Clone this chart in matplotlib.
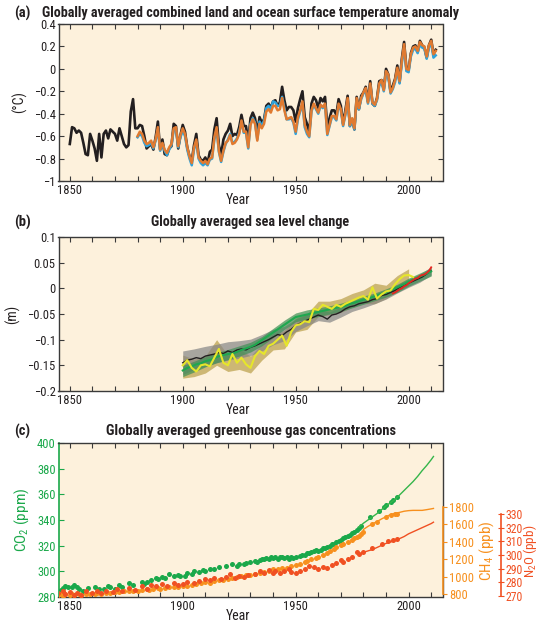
import numpy as np
import matplotlib
matplotlib.use("Agg")
import matplotlib.pyplot as plt

plt.rcParams['font.family'] = ['Roboto Condensed', 'Roboto', 'DejaVu Sans']
plt.rcParams['mathtext.fontset'] = 'custom'
plt.rcParams['mathtext.rm'] = 'Roboto Condensed'

# ---------------- data ----------------
# (a) surface temperature anomaly (deg C), annual
temp_years_black = np.arange(1850, 2013)
temp_black = [
    -0.67, -0.52, -0.53, -0.57, -0.55, -0.57, -0.66, -0.76, -0.77, -0.58,
    -0.64, -0.71, -0.82, -0.58, -0.79, -0.58, -0.55, -0.62, -0.54, -0.56,
    -0.58, -0.64, -0.53, -0.60, -0.67, -0.70, -0.68, -0.38, -0.27, -0.53,
    -0.53, -0.50, -0.51, -0.60, -0.71, -0.69, -0.67, -0.72, -0.61, -0.47,
    -0.72, -0.63, -0.76, -0.77, -0.71, -0.69, -0.49, -0.51, -0.71, -0.59,
    -0.50, -0.56, -0.70, -0.78, -0.82, -0.68, -0.58, -0.77, -0.81, -0.82,
    -0.79, -0.84, -0.74, -0.72, -0.54, -0.44, -0.68, -0.77, -0.63, -0.58,
    -0.55, -0.49, -0.60, -0.58, -0.59, -0.52, -0.41, -0.51, -0.51, -0.65,
    -0.44, -0.39, -0.44, -0.57, -0.43, -0.48, -0.45, -0.33, -0.31, -0.35,
    -0.29, -0.28, -0.33, -0.30, -0.16, -0.28, -0.37, -0.34, -0.34, -0.37,
    -0.47, -0.35, -0.27, -0.20, -0.43, -0.49, -0.57, -0.31, -0.25, -0.28,
    -0.35, -0.26, -0.29, -0.25, -0.52, -0.44, -0.37, -0.37, -0.41, -0.27,
    -0.33, -0.49, -0.37, -0.24, -0.51, -0.45, -0.54, -0.25, -0.36, -0.24,
    -0.21, -0.16, -0.29, -0.11, -0.31, -0.33, -0.26, -0.11, -0.10, -0.18,
    0.00, -0.05, -0.20, -0.15, -0.09, 0.03, -0.12, 0.09, 0.24, 0.01,
    -0.01, 0.14, 0.20, 0.21, 0.15, 0.25, 0.21, 0.19, 0.10, 0.21,
    0.26, 0.13, 0.17]
temp_years_other = np.arange(1880, 2013)
temp_orange = [
    -0.60, -0.56, -0.58, -0.64, -0.67, -0.66, -0.64, -0.70, -0.63, -0.52,
    -0.72, -0.66, -0.72, -0.75, -0.70, -0.67, -0.53, -0.52, -0.69, -0.59,
    -0.53, -0.58, -0.70, -0.78, -0.84, -0.70, -0.63, -0.79, -0.82, -0.84,
    -0.82, -0.85, -0.80, -0.79, -0.61, -0.52, -0.73, -0.82, -0.73, -0.66,
    -0.64, -0.59, -0.67, -0.66, -0.63, -0.58, -0.46, -0.56, -0.56, -0.70,
    -0.50, -0.45, -0.49, -0.64, -0.49, -0.53, -0.49, -0.38, -0.36, -0.39,
    -0.33, -0.33, -0.37, -0.36, -0.26, -0.37, -0.45, -0.44, -0.43, -0.47,
    -0.56, -0.43, -0.37, -0.29, -0.50, -0.56, -0.60, -0.37, -0.31, -0.35,
    -0.39, -0.32, -0.34, -0.31, -0.58, -0.50, -0.42, -0.42, -0.45, -0.31,
    -0.36, -0.50, -0.40, -0.26, -0.50, -0.44, -0.53, -0.26, -0.35, -0.26,
    -0.21, -0.17, -0.30, -0.13, -0.30, -0.32, -0.27, -0.13, -0.10, -0.19,
    -0.02, -0.05, -0.21, -0.17, -0.10, 0.01, -0.11, 0.07, 0.22, 0.00,
    -0.01, 0.13, 0.19, 0.20, 0.16, 0.24, 0.21, 0.20, 0.11, 0.21,
    0.25, 0.13, 0.16]
temp_blue = [
    -0.61, -0.58, -0.60, -0.66, -0.69, -0.68, -0.66, -0.71, -0.64, -0.54,
    -0.73, -0.67, -0.73, -0.77, -0.72, -0.68, -0.55, -0.54, -0.70, -0.61,
    -0.55, -0.60, -0.72, -0.80, -0.86, -0.72, -0.65, -0.80, -0.84, -0.86,
    -0.84, -0.86, -0.81, -0.80, -0.63, -0.54, -0.74, -0.83, -0.74, -0.67,
    -0.63, -0.58, -0.66, -0.65, -0.62, -0.57, -0.47, -0.57, -0.57, -0.71,
    -0.49, -0.44, -0.48, -0.63, -0.47, -0.51, -0.46, -0.35, -0.33, -0.36,
    -0.29, -0.30, -0.33, -0.33, -0.25, -0.35, -0.45, -0.45, -0.44, -0.48,
    -0.58, -0.45, -0.38, -0.31, -0.52, -0.58, -0.61, -0.38, -0.32, -0.36,
    -0.40, -0.33, -0.35, -0.32, -0.59, -0.51, -0.43, -0.43, -0.46, -0.32,
    -0.37, -0.51, -0.41, -0.28, -0.51, -0.46, -0.54, -0.28, -0.36, -0.27,
    -0.22, -0.19, -0.31, -0.15, -0.31, -0.33, -0.28, -0.15, -0.12, -0.20,
    -0.04, -0.07, -0.22, -0.18, -0.12, -0.01, -0.13, 0.05, 0.19, -0.02,
    -0.03, 0.11, 0.17, 0.18, 0.14, 0.22, 0.19, 0.18, 0.09, 0.19,
    0.23, 0.10, 0.12]

# (b) sea level change (m)
sl_years = np.arange(1900, 2011, 2)
sl_black = [
    -0.145, -0.140, -0.138, -0.135, -0.137, -0.132, -0.130, -0.128, -0.125, -0.127,
    -0.122, -0.125, -0.120, -0.118, -0.120, -0.115, -0.112, -0.108, -0.104, -0.100,
    -0.095, -0.090, -0.092, -0.085, -0.080, -0.072, -0.068, -0.064, -0.060, -0.056,
    -0.052, -0.055, -0.060, -0.052, -0.050, -0.046, -0.040, -0.036, -0.034, -0.030,
    -0.028, -0.026, -0.022, -0.020, -0.014, -0.012, -0.008, -0.004, 0.002, 0.006,
    0.010, 0.014, 0.018, 0.022, 0.028, 0.034]
sl_green = [
    -0.160, -0.155, -0.152, -0.148, -0.146, -0.142, -0.140, -0.136, -0.132, -0.130,
    -0.128, -0.127, -0.124, -0.120, -0.117, -0.114, -0.110, -0.104, -0.098, -0.092,
    -0.086, -0.080, -0.074, -0.068, -0.062, -0.056, -0.054, -0.052, -0.050, -0.048,
    -0.046, -0.044, -0.042, -0.040, -0.038, -0.036, -0.034, -0.030, -0.028, -0.025,
    -0.022, -0.020, -0.017, -0.014, -0.011, -0.008, -0.004, 0.000, 0.004, 0.008,
    0.013, 0.017, 0.021, 0.025, 0.029, 0.033]
sl_years_yellow = np.arange(1900, 2003, 2)
sl_yellow = [
    -0.150, -0.140, -0.155, -0.162, -0.150, -0.148, -0.152, -0.135, -0.118, -0.145,
    -0.150, -0.128, -0.145, -0.135, -0.148, -0.155, -0.132, -0.122, -0.128, -0.112,
    -0.108, -0.100, -0.092, -0.112, -0.085, -0.072, -0.070, -0.064, -0.066, -0.040,
    -0.042, -0.032, -0.036, -0.040, -0.032, -0.036, -0.030, -0.026, -0.022, -0.018,
    -0.015, -0.022, 0.002, -0.020, -0.012, -0.006, -0.004, 0.008, 0.018, 0.025,
    0.026, 0.022]
sl_years_red = np.arange(1993, 2011)
sl_red = [-0.010, -0.008, -0.005, -0.002, 0.000, 0.004, 0.006, 0.010, 0.013, 0.016,
          0.019, 0.020, 0.024, 0.026, 0.027, 0.030, 0.034, 0.041]

band_years = np.arange(1900, 2011, 5)
gray_lo = [-0.168, -0.158, -0.152, -0.145, -0.140, -0.136, -0.131, -0.122, -0.110, -0.102,
           -0.084, -0.073, -0.063, -0.066, -0.056, -0.045, -0.038, -0.030, -0.021, -0.009,
           0.002, 0.012, 0.026]
gray_hi = [-0.122, -0.118, -0.113, -0.109, -0.104, -0.102, -0.099, -0.090, -0.080, -0.074,
           -0.060, -0.051, -0.041, -0.046, -0.036, -0.025, -0.018, -0.012, -0.003, 0.007,
           0.018, 0.028, 0.042]
green_lo = [-0.172, -0.163, -0.153, -0.145, -0.139, -0.132, -0.124, -0.112, -0.096, -0.080,
            -0.065, -0.060, -0.055, -0.050, -0.045, -0.038, -0.031, -0.024, -0.017, -0.008,
            0.004, 0.014, 0.024]
green_hi = [-0.150, -0.142, -0.133, -0.125, -0.119, -0.112, -0.105, -0.094, -0.078, -0.062,
            -0.048, -0.042, -0.038, -0.034, -0.029, -0.022, -0.015, -0.009, -0.001, 0.008,
            0.020, 0.030, 0.040]
khaki_years = np.arange(1900, 2001, 5)
khaki_lo = [-0.175, -0.172, -0.165, -0.150, -0.162, -0.158, -0.165, -0.140, -0.120, -0.118,
            -0.085, -0.080, -0.055, -0.052, -0.047, -0.037, -0.030, -0.030, -0.020, -0.005,
            0.006]
khaki_hi = [-0.130, -0.138, -0.132, -0.100, -0.130, -0.118, -0.132, -0.108, -0.092, -0.082,
            -0.058, -0.050, -0.025, -0.025, -0.020, -0.010, -0.003, 0.010, 0.006, 0.025,
            0.038]

# (c) greenhouse gases: ice core dots and direct measurement lines
co2_dot_years = [1845, 1846, 1847, 1848, 1849, 1851, 1852, 1853, 1854, 1856, 1858, 1861, 1863,
                 1865, 1867, 1868, 1870, 1872, 1873, 1876, 1878, 1882, 1883, 1884, 1886, 1888,
                 1889, 1891, 1892, 1894, 1896, 1898, 1899, 1901, 1902, 1904, 1905, 1907, 1909,
                 1910, 1912, 1914, 1916, 1919, 1922, 1924, 1925, 1927, 1928, 1930, 1932, 1933,
                 1934, 1935, 1936, 1937, 1938, 1939, 1940, 1941, 1942, 1943, 1944, 1945, 1946,
                 1947, 1948, 1949, 1950, 1952, 1953, 1954, 1955, 1956, 1957, 1958, 1959, 1960,
                 1961, 1962, 1963, 1964, 1965, 1966, 1967, 1968, 1969, 1970, 1971, 1972, 1973,
                 1974, 1975, 1976, 1977, 1978, 1979, 1983, 1987, 1989, 1990, 1992, 1993, 1995]
co2_dots = [284.5, 285.5, 287.0, 288.5, 287.5, 288.0, 289.5, 287.5, 286.0, 285.0, 287.0, 287.5,
            286.5, 286.0, 288.5, 287.5, 286.5, 289.5, 288.0, 291.0, 289.5, 292.0, 290.0, 291.5,
            293.0, 295.0, 294.0, 295.5, 294.5, 298.0, 296.5, 297.0, 296.5, 296.0, 298.5, 298.0,
            300.0, 299.5, 301.0, 300.5, 301.5, 302.0, 303.5, 304.5, 305.5, 304.5, 306.0, 305.5,
            306.5, 307.0, 308.0, 307.5, 308.5, 309.5, 310.0, 310.5, 309.5, 311.0, 310.5, 311.5,
            310.0, 311.0, 311.5, 310.5, 311.0, 310.0, 311.0, 310.5, 311.0, 312.0, 313.0, 312.5,
            314.0, 314.5, 315.0, 315.5, 316.5, 316.0, 317.0, 318.0, 318.5, 319.0, 319.5, 321.0,
            321.5, 323.0, 324.0, 324.5, 326.0, 326.5, 327.5, 328.5, 330.0, 331.0, 332.0, 333.5,
            335.0, 342.0, 347.0, 350.0, 351.5, 354.0, 355.5, 358.0]
co2_line_years = [1978, 1980, 1982, 1984, 1986, 1988, 1990, 1992, 1994, 1996, 1998, 2000,
                  2002, 2004, 2006, 2008, 2010, 2011]
co2_line = [334.5, 337.5, 340.0, 342.5, 345.0, 348.0, 351.0, 353.5, 356.0, 359.5, 363.0,
            366.5, 370.0, 374.0, 378.5, 382.5, 387.0, 389.5]

ch4_dot_years = [1845, 1846, 1847, 1848, 1850, 1851, 1852, 1854, 1855, 1857, 1859, 1861, 1862,
                 1864, 1866, 1868, 1870, 1872, 1874, 1876, 1878, 1880, 1882, 1884, 1885, 1887,
                 1889, 1890, 1892, 1894, 1896, 1898, 1900, 1902, 1904, 1906, 1908, 1910, 1912,
                 1914, 1916, 1918, 1920, 1922, 1924, 1926, 1928, 1930, 1932, 1934, 1936, 1938,
                 1940, 1942, 1944, 1946, 1948, 1950, 1952, 1954, 1955, 1957, 1959, 1960, 1962,
                 1964, 1965, 1967, 1968, 1970, 1971, 1973, 1975, 1976, 1977, 1978, 1979, 1980,
                 1984, 1986, 1990, 1992, 1994, 1995]
ch4_dots = [792, 800, 785, 798, 790, 805, 795, 800, 788, 803, 808, 800, 812, 808, 818, 815, 825,
            822, 832, 835, 842, 838, 850, 858, 848, 862, 870, 865, 872, 880, 878, 885, 892, 890,
            905, 912, 925, 935, 930, 950, 958, 962, 975, 985, 995, 1005, 1015, 1025, 1030, 1045,
            1060, 1070, 1085, 1090, 1100, 1105, 1120, 1135, 1150, 1170, 1180, 1200, 1215, 1230,
            1250, 1275, 1290, 1320, 1335, 1360, 1375, 1400, 1425, 1440, 1455, 1470, 1490, 1515,
            1600, 1625, 1680, 1700, 1712, 1718]
ch4_line_years = [1980, 1982, 1984, 1986, 1988, 1990, 1992, 1994, 1996, 1998, 2000, 2002, 2004,
                  2006, 2008, 2010, 2011]
ch4_line = [1540, 1575, 1605, 1630, 1660, 1685, 1710, 1725, 1735, 1748, 1755, 1758, 1758, 1758,
            1766, 1775, 1780]

n2o_dot_years = [1845, 1847, 1848, 1850, 1852, 1853, 1855, 1857, 1860, 1862, 1864, 1866, 1869,
                 1871, 1873, 1876, 1879, 1882, 1884, 1886, 1888, 1891, 1893, 1896, 1898, 1900,
                 1902, 1905, 1907, 1910, 1912, 1914, 1917, 1919, 1921, 1923, 1925, 1927, 1929,
                 1932, 1934, 1936, 1938, 1940, 1941, 1943, 1945, 1947, 1948, 1950, 1952, 1954,
                 1956, 1958, 1960, 1962, 1964, 1966, 1968, 1970, 1971, 1973, 1975, 1977, 1978,
                 1980, 1984, 1988, 1991, 1993, 1995]
n2o_dots = [272, 273.5, 271.5, 273, 271, 272.5, 271, 274, 272.5, 273.5, 272, 274, 273, 275.5,
            274, 276, 274.5, 277, 275.5, 278, 277, 278.5, 277.5, 279.5, 278, 279, 280.5, 279.5,
            281, 282.5, 281.5, 283, 282.5, 284, 286, 283.5, 285, 284, 285.5, 286, 288, 286.5,
            289, 287, 288.5, 286.5, 288, 290, 287.5, 286.5, 288, 289.5, 292, 291, 290, 291.5,
            290.5, 293, 294.5, 296, 295, 297, 298.5, 302, 300.5, 302, 305, 308, 310, 311, 312]
n2o_line_years = [1978, 1980, 1982, 1984, 1986, 1988, 1990, 1992, 1994, 1996, 1998, 2000, 2002,
                  2004, 2006, 2008, 2010, 2011]
n2o_line = [300.5, 302, 303, 304, 305.5, 307, 308.5, 309.5, 310.5, 312, 313.5, 315.5, 317,
            318.5, 320, 321.5, 323, 324]

# ---------------- styling ----------------
BG = '#fdf1dc'
FRAME = '#3a3a3a'
C_BLACK = '#231f20'
C_BLUE = '#2ea3dc'
C_ORANGE = '#e07a30'
C_CO2 = '#1aa84a'
C_CO2_LINE = '#35b54a'
C_CH4 = '#f7901e'
C_N2O = '#f05022'

fig = plt.figure(figsize=(5.4, 6.25), dpi=100)
L, W = 58.5 / 540, 384 / 540
ax_a = fig.add_axes([L, 1 - 181 / 625, W, 157 / 625])
ax_b = fig.add_axes([L, 1 - 391 / 625, W, 154 / 625])
ax_c = fig.add_axes([L, 1 - 597 / 625, W, 154 / 625])

decades = np.arange(1850, 2011, 10)
dec_labels = [str(d) if d % 50 == 0 else '' for d in decades]


def style_axes(ax, yticks, ylabels, right_ticks=True):
    ax.set_facecolor(BG)
    ax.set_xlim(1845, 2015)
    ax.set_xticks(decades)
    ax.set_xticklabels(dec_labels)
    ax.set_yticks(yticks)
    ax.set_yticklabels(ylabels)
    ax.tick_params(direction='in', length=3.5, width=0.8, color=FRAME, labelsize=9,
                   labelcolor='#231f20', top=True, right=right_ticks, pad=2)
    ax.tick_params(axis='x', pad=2.5)
    for s in ax.spines.values():
        s.set_color(FRAME)
        s.set_linewidth(1.0)
    ax.set_xlabel('Year', fontsize=10, labelpad=0, color='#231f20')
    ax.xaxis.set_label_coords((238 - 58.5) / 384, -0.075)


# (a)
ax_a.plot(temp_years_black, temp_black, color=C_BLACK, lw=1.9)
ax_a.plot(temp_years_other, temp_blue, color=C_BLUE, lw=1.8)
ax_a.plot(temp_years_other, temp_orange, color=C_ORANGE, lw=1.8)
ax_a.set_ylim(-1, 0.4)
style_axes(ax_a, [-1, -0.8, -0.6, -0.4, -0.2, 0, 0.2, 0.4],
           ['\u22121', '\u22120.8', '\u22120.6', '\u22120.4', '\u22120.2', '0', '0.2', '0.4'])
ax_a.set_ylabel('(\u00b0C)', fontsize=10, labelpad=5, color='#231f20')

# (b)
ax_b.fill_between(khaki_years, khaki_lo, khaki_hi, color='#bea452', alpha=0.75, lw=0)
ax_b.fill_between(band_years, gray_lo, gray_hi, color='#858585', alpha=0.7, lw=0)
ax_b.fill_between(band_years, green_lo, green_hi, color='#3f8f55', alpha=0.7, lw=0)
ax_b.plot(sl_years, sl_black, color=C_BLACK, lw=1.0)
ax_b.plot(sl_years, sl_green, color='#1fa84f', lw=1.5)
ax_b.plot(sl_years_yellow, sl_yellow, color='#e6e62a', lw=1.5)
ax_b.plot(sl_years_red, sl_red, color='#e8231f', lw=1.3)
ax_b.set_ylim(-0.2, 0.1)
style_axes(ax_b, [-0.2, -0.15, -0.1, -0.05, 0, 0.05, 0.1],
           ['\u22120.2', '\u22120.15', '\u22120.1', '\u22120.05', '0', '0.05', '0.1'])
ax_b.set_ylabel('(m)', fontsize=10, labelpad=5, color='#231f20')

# (c)
ax_c.scatter(co2_dot_years, co2_dots, s=13, color=C_CO2, lw=0, zorder=3)
ax_c.plot(co2_line_years, co2_line, color=C_CO2_LINE, lw=1.0, zorder=3)
ax_c.set_ylim(280, 400)
style_axes(ax_c, np.arange(280, 401, 20), [str(v) for v in range(280, 401, 20)],
           right_ticks=False)
ax_c.spines['left'].set_color(C_CO2)
ax_c.spines['left'].set_linewidth(1.2)
ax_c.tick_params(axis='y', colors=C_CO2, labelcolor=C_CO2)
ax_c.set_ylabel(r'CO$_\mathregular{2}$ (ppm)', fontsize=11, color=C_CO2, labelpad=4)

ax_ch4 = ax_c.twinx()
ax_ch4.scatter(ch4_dot_years, ch4_dots, s=13, color=C_CH4, lw=0)
ax_ch4.plot(ch4_line_years, ch4_line, color=C_CH4, lw=1.0)
ax_ch4.set_ylim(769, 2527)
ax_ch4.set_yticks(np.arange(800, 1801, 200))
ax_ch4.spines['right'].set_bounds(800, 1800)
ax_ch4.spines['right'].set_color(C_CH4)
ax_ch4.spines['right'].set_linewidth(1.2)
for k in ('left', 'top', 'bottom'):
    ax_ch4.spines[k].set_visible(False)
ax_ch4.tick_params(axis='y', direction='out', length=3, colors=C_CH4, labelsize=9, pad=1.5)
ax_ch4.set_ylabel(r'CH$_\mathregular{4}$ (ppb)', fontsize=11, color=C_CH4)
ax_ch4.yaxis.set_label_coords((477 - 58.5) / 384, (597 - 551) / 154)

ax_n2o = ax_c.twinx()
ax_n2o.scatter(n2o_dot_years, n2o_dots, s=13, color=C_N2O, lw=0)
ax_n2o.plot(n2o_line_years, n2o_line, color=C_N2O, lw=1.0)
ax_n2o.set_ylim(269.3, 381.9)
ax_n2o.set_yticks(np.arange(270, 331, 10))
ax_n2o.spines['right'].set_position(('axes', (501 - 58.5) / 384))
ax_n2o.spines['right'].set_bounds(270, 330)
ax_n2o.spines['right'].set_color(C_N2O)
ax_n2o.spines['right'].set_linewidth(1.2)
for k in ('left', 'top', 'bottom'):
    ax_n2o.spines[k].set_visible(False)
ax_n2o.tick_params(axis='y', direction='inout', length=4, colors=C_N2O, labelsize=8.5, pad=1)
ax_n2o.set_ylabel(r'N$_\mathregular{2}$O (ppb)', fontsize=9.5, color=C_N2O)
ax_n2o.yaxis.set_label_coords((521 - 58.5) / 384, (597 - 551) / 154)

# titles, shrunk if needed so each spans the same width as in the reference
xc = (58.5 + 442.5) / 2 / 540
titles = [('(a)', 'Globally averaged combined land and ocean surface temperature anomaly', 13, 420),
          ('(b)', 'Globally averaged sea level change', 222, 200),
          ('(c)', 'Globally averaged greenhouse gas concentrations', 431, 290)]
renderer = fig.canvas.get_renderer()
for letter, title, ypix, width_px in titles:
    fig.text(14 / 540, 1 - ypix / 625, letter, fontsize=10.5, fontweight='bold',
             ha='left', va='center', color='#231f20')
    t = fig.text(xc, 1 - ypix / 625, title, fontsize=10.5, fontweight='bold',
                 ha='center', va='center', color='#231f20')
    w = t.get_window_extent(renderer).width
    if w > width_px:
        t.set_fontsize(10.5 * width_px / w)

fig.savefig('out.png', dpi=100)
